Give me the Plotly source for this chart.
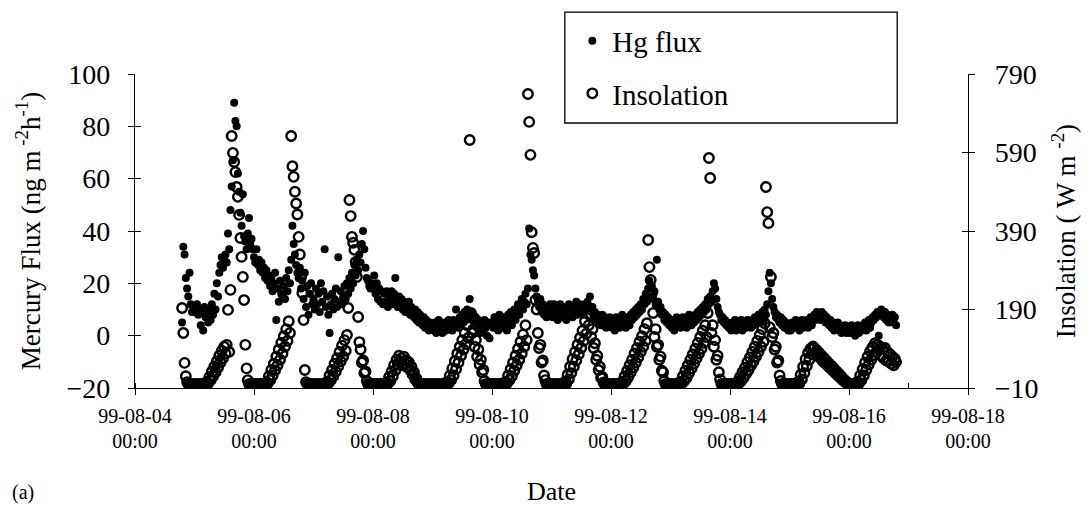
import pandas as pd
import plotly.graph_objects as go

# Half-hourly records, 1999-08-04 19:00 through 1999-08-16 19:00
# Mercury flux (ng m-2 h-1), one list per day
hg_0804 = [5, 34, 31, 22, 18, 15, 24, 12, 9, 11]
hg_0805 = [11, 9, 12, 8, 10, 4, 9, 2, 11, 7, 9, 5, 10, 6, 12, 8, 16, 10, 20, 15,
           24, 27, 30, 26, 29, 31, 28, 39, 33, 48, 57, 67, 89, 82, 80, 62, 55, 47, 42, 54,
           38, 36, 33, 39, 45, 35, 37, 33]
hg_0806 = [30, 28, 33, 27, 29, 25, 28, 24, 26, 22, 25, 21, 23, 19, 22, 17, 20, 24, 6, 18,
           13, 21, 16, 15, 19, 14, 22, 17, 25, 20, 29, 42, 35, 31, 27, 24, 22, 26, 18, 21,
           14, 24, 11, 19, 8, 16, 20, 12]
hg_0807 = [14, 10, 18, 12, 16, 9, 20, 13, 17, 33, 11, 15, 8, 1, 12, 16, 10, 14, 18, 11,
           30, 13, 17, 12, 15, 19, 14, 20, 16, 22, 18, 24, 20, 27, 23, 29, 25, 31, 28, 35,
           40, 33, 26, 22, 21, 19, 18, 20]
hg_0808 = [19, 23, 16, 20, 14, 18, 13, 17, 12, 16, 13, 17, 11, 15, 13, 17, 12, 16, 22, 14,
           11, 15, 12, 14, 10, 13, 9, 12, 10, 13, 8, 11, 9, 7, 10, 6, 9, 5, 8, 6,
           4, 7, 3, 6, 4, 2, 5, 3]
hg_0809 = [4, 2, 5, 1, 3, 6, 2, 4, 1, 3, 5, 2, 4, 6, 3, 5, 2, 6, 4, 10,
           5, 3, 7, 4, 8, 5, 9, 6, 10, 7, 14, 9, 6, 8, 5, 7, 3, 6, 4, 1,
           5, 2, 6, 3, 0, 5, -1, 4]
hg_0810 = [5, 3, 7, 4, 6, 2, 8, 5, 3, 7, 4, 6, 2, 8, 5, 9, 4, 7, 10, 6,
           9, 12, 8, 11, 14, 10, 13, 16, 12, 18, 41, 31, 29, 25, 23, 18, 15, 13, 11, 14,
           9, 12, 8, 11, 7, 10, 9, 12]
hg_0811 = [10, 7, 12, 8, 11, 6, 9, 12, 7, 10, 8, 11, 6, 9, 12, 8, 10, 7, 11, 9,
           13, 8, 10, 12, 9, 11, 8, 12, 10, 13, 11, 15, 9, 11, 7, 9, 6, 8, 5, 7,
           4, 8, 5, 7, 3, 6, 4, 7]
hg_0812 = [6, 3, 5, 2, 7, 4, 6, 3, 5, 8, 4, 6, 3, 7, 5, 4, 8, 6, 9, 7,
           10, 8, 11, 9, 12, 10, 14, 12, 16, 13, 18, 21, 15, 19, 14, 17, 12, 29, 13, 10,
           11, 8, 9, 6, 8, 5, 7, 4]
hg_0813 = [5, 3, 6, 2, 5, 7, 4, 6, 3, 5, 7, 4, 6, 3, 5, 8, 6, 4, 7, 5,
           8, 6, 9, 7, 10, 8, 11, 9, 12, 10, 14, 12, 15, 13, 17, 20, 18, 14, 11, 9,
           8, 6, 7, 5, 6, 4, 5, 3]
hg_0814 = [4, 2, 5, 3, 6, 2, 4, 5, 3, 6, 2, 4, 5, 3, 6, 4, 5, 3, 6, 4,
           7, 5, 6, 8, 5, 7, 9, 6, 10, 8, 12, 17, 24, 20, 14, 11, 9, 7, 8, 6,
           5, 7, 4, 6, 3, 5, 4, 2]
hg_0815 = [4, 2, 5, 3, 4, 6, 3, 5, 2, 4, 6, 3, 5, 4, 6, 3, 5, 7, 4, 6,
           8, 6, 9, 7, 8, 6, 9, 7, 8, 5, 7, 6, 4, 6, 3, 5, 2, 4, 3, 5,
           2, 4, 1, 3, 2, 4, 1, 3]
hg_0816 = [3, 1, 4, 2, 3, 0, 2, 4, 1, 3, 2, 4, 3, 5, 2, 4, 6, 3, 5, 7,
           6, 8, 7, 9, 0, 8, 10, 9, 7, 9, 6, 8, 5, 7, 6, 8, 5, 7, 4]

# Insolation (W m-2), same timestamps
ins_0804 = [194, 130, 54, 20, 5, 0, 0, 0, 0, 0]
ins_0805 = [0, 0, 0, 0, 0, 0, 0, 0, 0, 0, 6, 2, 18, 10, 32, 20, 45, 30, 58, 42,
            72, 55, 85, 66, 95, 78, 100, 189, 82, 240, 632, 589, 566, 540, 502, 477, 431, 372, 324, 273,
            214, 100, 40, 10, 0, 0, 0, 0]
ins_0806 = [0, 0, 0, 0, 0, 0, 0, 0, 0, 0, 5, 2, 20, 10, 36, 22, 52, 35, 70, 48,
            88, 62, 105, 78, 122, 95, 140, 110, 160, 130, 632, 555, 528, 490, 460, 432, 375, 330, 273, 232,
            163, 36, 5, 0, 0, 0, 0, 0]
ins_0807 = [0, 0, 0, 0, 0, 0, 0, 0, 0, 0, 0, 6, 2, 22, 10, 36, 20, 52, 32, 66,
            45, 82, 58, 98, 70, 112, 85, 125, 194, 469, 428, 375, 360, 342, 311, 273, 171, 107, 88, 55,
            60, 28, 32, 8, 0, 0, 0, 0]
ins_0808 = [0, 0, 0, 0, 0, 0, 0, 0, 0, 0, 0, 5, 2, 18, 8, 32, 20, 48, 35, 62,
            50, 72, 58, 66, 48, 70, 52, 60, 42, 55, 36, 44, 24, 30, 12, 14, 4, 0, 0, 0,
            0, 0, 0, 0, 0, 0, 0, 0]
ins_0809 = [0, 0, 0, 0, 0, 0, 0, 0, 0, 0, 0, 0, 6, 2, 22, 10, 40, 22, 58, 38,
            78, 55, 95, 72, 112, 88, 130, 102, 150, 118, 622, 181, 130, 140, 95, 112, 70, 88, 50, 62,
            30, 36, 8, 0, 0, 0, 0, 0]
ins_0810 = [0, 0, 0, 0, 0, 0, 0, 0, 0, 0, 0, 6, 2, 22, 10, 38, 20, 55, 34, 72,
            48, 90, 62, 108, 78, 126, 95, 150, 112, 739, 668, 584, 387, 347, 334, 214, 190, 130, 92, 100,
            55, 60, 22, 10, 0, 0, 0, 0]
ins_0811 = [0, 0, 0, 0, 0, 0, 0, 0, 0, 0, 0, 6, 2, 24, 12, 44, 28, 64, 44, 82,
            60, 100, 76, 118, 92, 136, 110, 160, 128, 196, 150, 175, 120, 140, 92, 104, 62, 72, 36, 44,
            16, 18, 4, 0, 0, 0, 0, 0]
ins_0812 = [0, 0, 0, 0, 0, 0, 0, 0, 0, 6, 2, 20, 8, 34, 18, 48, 30, 62, 42, 78,
            55, 92, 68, 108, 82, 122, 95, 140, 110, 155, 367, 298, 265, 232, 181, 120, 140, 95, 100, 62,
            70, 34, 30, 8, 0, 0, 0, 0]
ins_0813 = [0, 0, 0, 0, 0, 0, 0, 0, 6, 2, 20, 8, 34, 16, 48, 28, 62, 40, 76, 52,
            90, 65, 105, 78, 120, 90, 136, 105, 150, 120, 181, 576, 525, 130, 150, 95, 112, 62, 72, 30,
            12, 0, 0, 0, 0, 0, 0, 0]
ins_0814 = [0, 0, 0, 0, 0, 0, 6, 2, 18, 8, 30, 16, 42, 26, 56, 36, 68, 48, 82, 58,
            95, 70, 110, 82, 125, 95, 140, 108, 155, 502, 438, 410, 145, 273, 120, 130, 88, 95, 55, 60,
            22, 8, 0, 0, 0, 0, 0, 0]
ins_0815 = [0, 0, 0, 0, 0, 0, 0, 6, 2, 24, 12, 44, 28, 64, 46, 80, 62, 90, 76, 96,
            92, 80, 86, 72, 79, 66, 72, 58, 66, 52, 59, 46, 52, 40, 46, 34, 39, 28, 32, 22,
            26, 16, 19, 10, 12, 5, 6, 2]
ins_0816 = [0, 0, 0, 0, 0, 0, 0, 6, 2, 22, 10, 38, 22, 55, 36, 70, 50, 84, 62, 94,
            74, 104, 82, 100, 88, 96, 72, 90, 66, 92, 60, 82, 58, 76, 52, 70, 48, 64, 56]

hg_days = [hg_0804, hg_0805, hg_0806, hg_0807, hg_0808, hg_0809, hg_0810,
           hg_0811, hg_0812, hg_0813, hg_0814, hg_0815, hg_0816]
ins_days = [ins_0804, ins_0805, ins_0806, ins_0807, ins_0808, ins_0809, ins_0810,
            ins_0811, ins_0812, ins_0813, ins_0814, ins_0815, ins_0816]
hg_flux = [v for day in hg_days for v in day]
insolation = [v for day in ins_days for v in day]
times = pd.date_range("1999-08-04 19:00", periods=len(hg_flux), freq="30min")

# Axis ticks
date_ticks = ["1999-08-04", "1999-08-06", "1999-08-08", "1999-08-10",
              "1999-08-12", "1999-08-14", "1999-08-16", "1999-08-18"]
date_labels = ["99-08-04", "99-08-06", "99-08-08", "99-08-10",
               "99-08-12", "99-08-14", "99-08-16", "99-08-18"]
time_labels = ["00:00"] * len(date_ticks)
flux_ticks = [-20, 0, 20, 40, 60, 80, 100]
ins_ticks = [-10, 190, 390, 590, 790]

SERIF = "Liberation Serif"
BLACK = "#000000"

fig = go.Figure()
fig.add_trace(go.Scatter(
    x=times, y=hg_flux, mode="markers", name="Hg flux", legendgroup="a",
    marker=dict(symbol="circle", size=8, color=BLACK, line=dict(width=0)),
    xaxis="x", yaxis="y"))
fig.add_trace(go.Scatter(
    x=times, y=insolation, mode="markers", name="Insolation", legendgroup="b",
    marker=dict(symbol="circle-open", size=9.5, color=BLACK, line=dict(width=2.4, color=BLACK)),
    xaxis="x", yaxis="y2"))
# empty traces that carry the companion axes (inner halves of the crossing ticks)
fig.add_trace(go.Scatter(x=[], y=[], xaxis="x2", yaxis="y3", showlegend=False, hoverinfo="skip"))
fig.add_trace(go.Scatter(x=[], y=[], xaxis="x", yaxis="y4", showlegend=False, hoverinfo="skip"))

x_range = ["1999-08-04 00:00", "1999-08-18 00:00"]
axis_common = dict(showgrid=False, zeroline=False, linecolor=BLACK, tickcolor=BLACK,
                   automargin=False)

fig.update_layout(
    width=1088, height=508,
    margin=dict(l=135, r=120, t=74, b=120, autoexpand=False),
    paper_bgcolor="white", plot_bgcolor="white",
    font=dict(family=SERIF, color=BLACK),
    showlegend=True,
    xaxis=dict(
        type="date", range=x_range, tickmode="array", tickvals=date_ticks, ticktext=date_labels,
        ticks="outside", ticklen=6, tickwidth=1.2, showline=True, linewidth=1.3,
        tickfont=dict(size=20, family=SERIF), ticklabelstandoff=4,
        minor=dict(dtick=86400000, ticks="inside", ticklen=5, tickcolor=BLACK, tickwidth=1),
        title=dict(text="Date", font=dict(size=26, family=SERIF), standoff=55),
        **axis_common),
    xaxis2=dict(
        type="date", range=x_range, overlaying="x", anchor="y", side="bottom",
        tickmode="array", tickvals=date_ticks, ticktext=time_labels,
        ticks="inside", ticklen=6, tickwidth=1.2, showline=False,
        tickfont=dict(size=20, family=SERIF), ticklabelstandoff=39,
        **axis_common),
    yaxis=dict(
        range=[-20, 100], tickmode="array", tickvals=flux_ticks,
        ticks="outside", ticklen=6, tickwidth=1.2, showline=True, linewidth=1.3,
        tickfont=dict(size=28, family=SERIF), ticklabelstandoff=12,
        title=dict(text="Mercury Flux (ng m<sup> -2</sup>h<sup>-1</sup>)",
                   font=dict(size=27, family=SERIF), standoff=18),
        **axis_common),
    yaxis3=dict(
        range=[-20, 100], overlaying="y", anchor="x2", side="left",
        tickmode="array", tickvals=flux_ticks, ticks="inside", ticklen=6, tickwidth=1.2,
        showticklabels=False, showline=False, **axis_common),
    yaxis2=dict(
        range=[-10, 790], overlaying="y", anchor="x", side="right",
        tickmode="array", tickvals=ins_ticks,
        ticks="outside", ticklen=6, tickwidth=1.2, showline=True, linewidth=1.3,
        tickfont=dict(size=28, family=SERIF), ticklabelstandoff=14,
        title=dict(text="Insolation ( W m <sup>-2</sup>)",
                   font=dict(size=27, family=SERIF), standoff=18),
        **axis_common),
    yaxis4=dict(
        range=[-10, 790], overlaying="y", anchor="x", side="right",
        tickmode="array", tickvals=ins_ticks, ticks="inside", ticklen=6, tickwidth=1.2,
        showticklabels=False, showline=False, **axis_common),
    legend=dict(
        x=0.525, y=1.187, xanchor="left", yanchor="top",
        bgcolor="rgba(0,0,0,0)", borderwidth=0,
        font=dict(size=29, family=SERIF, color=BLACK),
        tracegroupgap=12, itemsizing="trace"),
    shapes=[dict(type="rect", xref="paper", yref="paper",
                 x0=0.516, x1=0.915, y0=0.844, y1=1.197,
                 line=dict(color=BLACK, width=1.3), fillcolor="rgba(0,0,0,0)")],
    annotations=[dict(text="(a)", xref="paper", yref="paper", x=-0.135, y=-0.332,
                      xanchor="center", yanchor="middle", showarrow=False,
                      font=dict(size=20, family=SERIF))],
)

fig.write_html("out.html")
